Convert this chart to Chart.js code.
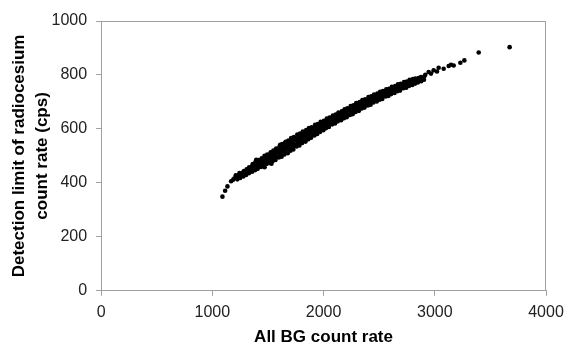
<!DOCTYPE html>
<html>
<head>
<meta charset="utf-8">
<script src="https://cdn.jsdelivr.net/npm/chart.js@4/dist/chart.umd.min.js"></script>
<style>
html,body{margin:0;padding:0;background:#fff;}
#wrap{width:567px;height:344px;position:relative;}
</style>
</head>
<body>
<div id="wrap"><canvas id="c" width="567" height="344"></canvas></div>
<script>
// Axis text
const xTitle = 'All BG count rate';
const yTitle = ['Detection limit of radiocesium', 'count rate (cps)'];
const xTicks = [0, 1000, 2000, 3000, 4000];
const yTicks = [0, 200, 400, 600, 800, 1000];

// [All BG count rate, detection limit (cps)]
const lowTail = [
  [1091,349],[1115,371],[1136,387],[1169,406],[1188,412],[1199,417],[1211,428],[1244,436]
];
const bandLow = [
  [1225,413],[1228,421],[1232,426],
  [1250,418],[1253,425],[1248,431],[1256,434],
  [1278,424],[1282,432],[1276,438],[1284,444],
  [1303,429],[1306,437],[1301,443],[1308,450],
  [1329,436],[1333,445],[1327,452],[1331,458],
  [1358,441],[1362,451],[1356,458],[1361,465],[1364,470],
  [1383,447],[1387,455],[1381,463],[1386,472],[1389,478],[1395,486],
  [1408,452],[1412,461],[1406,470],[1411,477],[1414,485],
  [1438,459],[1442,467],[1436,474],[1441,484],[1444,491],
  [1463,463],[1467,473],[1461,482],[1466,490],[1469,500],[1470,458],
  [1488,470],[1492,479],[1486,488],[1491,497],[1494,505],
  [1518,474],[1522,486],[1516,494],[1521,503],[1524,513],[1532,471],
  [1543,481],[1547,490],[1541,500],[1546,511],[1549,520],
  [1568,485],[1572,497],[1566,507],[1571,516],[1574,527],
  [1598,494],[1602,503],[1596,513],[1601,525],[1604,535],[1610,541],
  [1623,497],[1627,510],[1621,520],[1626,531],[1629,544],
  [1648,505],[1652,515],[1646,527],[1651,536],[1654,549],[1660,552],
  [1678,510],[1682,524],[1676,534],[1681,547],[1684,557],
  [1703,519],[1707,529],[1701,541],[1706,551],[1709,566]
];
const bandMid = [
  [1728,524],[1732,537],[1726,546],[1731,560],[1734,570],
  [1758,535],[1762,544],[1756,556],[1761,565],[1764,579],
  [1783,539],[1787,552],[1781,560],[1786,573],[1789,583],
  [1808,548],[1812,557],[1806,568],[1811,577],[1814,590],
  [1838,553],[1842,566],[1836,574],[1841,587],[1844,596],
  [1863,562],[1867,570],[1861,582],[1866,591],[1869,603],
  [1888,567],[1892,579],[1886,586],[1891,599],[1894,606],
  [1918,576],[1922,584],[1916,595],[1921,603],[1924,615],
  [1943,581],[1947,592],[1941,599],[1946,611],[1949,618],
  [1968,589],[1972,596],[1966,607],[1971,615],[1974,626],
  [1998,595],[2002,606],[1996,612],[2001,623],[2004,630],
  [2023,603],[2027,610],[2021,620],[2026,627],[2029,638],
  [2048,607],[2052,618],[2046,624],[2051,635],[2054,642],
  [2078,617],[2082,623],[2076,633],[2081,640],[2084,650],
  [2103,620],[2107,630],[2101,636],[2106,647],[2109,653],
  [2128,628],[2132,634],[2126,644],[2131,651],[2134,661],
  [2158,632],[2162,642],[2156,648],[2161,659],[2164,665],
  [2183,640],[2187,646],[2181,656],[2186,663],[2189,673],
  [2208,643],[2212,653],[2206,659],[2211,670],[2214,676],
  [2238,652],[2242,658],[2236,668],[2241,675],[2244,685],
  [2263,655],[2267,665],[2261,671],[2266,682],[2269,688],
  [2288,663],[2292,669],[2286,679],[2291,686],[2294,696]
];
const bandHigh = [
  [2318,667],[2322,677],[2316,683],[2321,694],[2324,700],
  [2343,676],[2347,682],[2341,691],[2346,697],[2349,707],
  [2368,679],[2372,689],[2366,694],[2371,704],[2374,710],
  [2398,687],[2402,693],[2396,702],[2401,708],[2404,718],
  [2423,690],[2427,700],[2421,705],[2426,715],[2429,721],
  [2448,698],[2452,703],[2446,712],[2451,718],[2454,727],
  [2478,702],[2482,711],[2476,716],[2481,726],[2484,731],
  [2503,708],[2507,714],[2501,723],[2506,728],[2509,738],
  [2528,711],[2532,720],[2526,725],[2531,735],[2534,740],
  [2558,720],[2562,725],[2556,733],[2561,738],[2564,747],
  [2583,722],[2587,731],[2581,736],[2586,745],[2589,749],
  [2608,729],[2612,734],[2606,742],[2611,747],[2614,756],
  [2638,733],[2642,742],[2636,746],[2641,754],[2644,759],
  [2663,740],[2667,744],[2661,752],[2666,757],[2669,765],
  [2688,742],[2692,751],[2686,755],[2691,763],[2694,767],
  [2718,751],[2722,755],[2716,762],[2721,766],[2724,774],
  [2743,753],[2747,761],[2741,765],[2746,772],[2749,776],
  [2768,759],[2772,763],[2766,771],[2771,774],[2774,782],
  [2798,763],[2802,771],[2796,774],[2801,781],[2804,785],
  [2823,768],[2827,776],[2821,780],[2826,787],
  [2848,772],[2852,780],[2855,789],
  [2878,777],[2882,785],[2876,792],
  [2903,782],[2906,794]
];
const highTail = [
  [2915,801],[2945,811],[2966,805],[2990,817],[3020,813],[3035,827],[3080,823],
  [3125,833],[3146,838],[3170,835],[3230,845],[3266,854],[3395,883],[3673,903]
];

const points = [...lowTail, ...bandLow, ...bandMid, ...bandHigh, ...highTail]
  .map(([x, y]) => ({x, y}));

const GRAY = '#a0a0a0';
const FONT = "'Liberation Sans', Arial, sans-serif";

const boxPlugin = {
  id: 'box',
  afterDraw(chart) {
    const {ctx, chartArea: a} = chart;
    ctx.save();
    ctx.strokeStyle = GRAY;
    ctx.lineWidth = 1;
    ctx.beginPath();
    ctx.moveTo(a.left, Math.round(a.top) + 0.5);
    ctx.lineTo(a.right, Math.round(a.top) + 0.5);
    ctx.moveTo(Math.round(a.right) - 0.5, a.top);
    ctx.lineTo(Math.round(a.right) - 0.5, a.bottom);
    ctx.stroke();
    ctx.restore();
  }
};

const plain = v => String(v);

new Chart(document.getElementById('c'), {
  type: 'scatter',
  data: {
    datasets: [{
      data: points,
      backgroundColor: '#000',
      borderWidth: 0,
      pointRadius: 2.3,
      pointHoverRadius: 2.3
    }]
  },
  options: {
    responsive: false,
    animation: false,
    devicePixelRatio: 1,
    layout: { padding: { left: 0, right: 21, top: 21, bottom: 0 } },
    plugins: { legend: { display: false }, tooltip: { enabled: false } },
    scales: {
      x: {
        type: 'linear',
        min: xTicks[0], max: xTicks[xTicks.length - 1],
        afterBuildTicks: s => { s.ticks = xTicks.map(v => ({value: v})); },
        afterFit: s => { s.paddingRight = 0; s.paddingLeft = 0; },
        grid: { drawOnChartArea: false, drawTicks: true, tickLength: 5, color: GRAY },
        border: { display: true, color: GRAY },
        ticks: { padding: 7, color: '#222', font: { family: FONT, size: 16 }, callback: plain },
        title: {
          display: true, text: xTitle, color: '#000',
          font: { family: FONT, size: 17, weight: 'bold', lineHeight: 1.0 },
          padding: { top: 0, bottom: -2 }
        }
      },
      y: {
        type: 'linear',
        min: yTicks[0], max: yTicks[yTicks.length - 1],
        afterBuildTicks: s => { s.ticks = yTicks.map(v => ({value: v})); },
        grid: { drawOnChartArea: false, drawTicks: true, tickLength: 5, color: GRAY },
        border: { display: true, color: GRAY },
        ticks: { padding: 9, color: '#222', font: { family: FONT, size: 16 }, callback: plain },
        title: {
          display: true, text: yTitle, color: '#000',
          font: { family: FONT, size: 17, weight: 'bold', lineHeight: 1.353 },
          padding: { top: 7.5, bottom: -11 }
        }
      }
    }
  },
  plugins: [boxPlugin]
});
</script>
</body>
</html>
